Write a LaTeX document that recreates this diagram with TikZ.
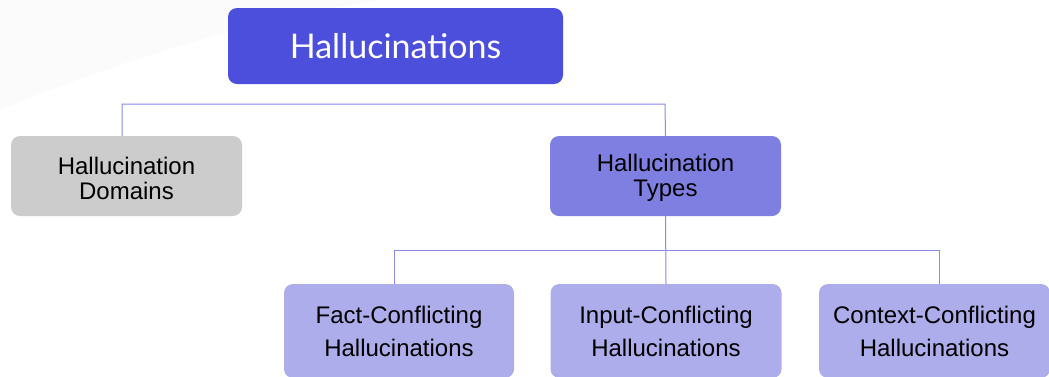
\documentclass[tikz,border=0pt]{standalone}
\usepackage{fontspec}
\setmainfont{Liberation Sans}
\newfontfamily\titlefont{Lato}
\begin{document}
\begin{tikzpicture}[x=1pt,y=-1pt,
  box/.style={rounded corners=9pt, inner sep=0pt, align=center, font=\fontsize{24}{25}\selectfont, text=black},
  leaf/.style={box, fill=leafc, minimum height=94pt, font=\fontsize{24}{33}\selectfont},
  link/.style={draw=linkc, line width=1pt}]
\definecolor{rootc}{HTML}{4B4FDB}
\definecolor{typec}{HTML}{7F7FE2}
\definecolor{leafc}{HTML}{ADADEC}
\definecolor{grayc}{HTML}{CCCCCC}
\definecolor{linkc}{HTML}{8A8AEE}
\useasboundingbox (0,0) rectangle (1049,376);
\clip (0,0) rectangle (1049,376);
\fill[white] (0,0) rectangle (1049,376);
\fill[black!1.5] (0,0) -- (380,0) .. controls (250,20) and (120,60) .. (0,110) -- cycle;
% nodes
\node[box, fill=rootc, minimum width=335pt, minimum height=76pt, text=white, font=\titlefont\fontsize{34}{38}\selectfont] (root) at (395.5,46) {Hallucinations};
\node[box, fill=grayc, minimum width=231pt, minimum height=80pt] (dom) at (126.5,176) {};
\node[align=center, font=\fontsize{24}{25}\selectfont, inner sep=0pt] (domt) at (126.5,178) {Hallucination\\Domains};
\node[box, fill=typec, minimum width=231pt, minimum height=80pt] (typ) at (665.5,176) {};
\node[align=center, font=\fontsize{24}{25}\selectfont, inner sep=0pt] (typt) at (665.5,178) {Hallucination\\Types};
\node[leaf, minimum width=230pt] (fact) at (399,331) {Fact-Conflicting\\Hallucinations};
\node[leaf, minimum width=231pt] (inp) at (666,331) {Input-Conflicting\\Hallucinations};
\node[leaf, minimum width=231pt] (ctx) at (934.5,331) {Context-Conflicting\\Hallucinations};
% connectors
\coordinate (h1) at (122,104);
\coordinate (h2) at (665,104);
\draw[link] ([xshift=-4.5pt]dom.north) |- (h1) -- (h2) -- (typ.north);
\coordinate (g1) at (394,250);
\coordinate (g2) at (939,250);
\draw[link] (typ.south) -- (inp.north);
\draw[link] ([xshift=-5pt]fact.north) |- (g1) -- (g2) -- ([xshift=4.5pt]ctx.north);
\end{tikzpicture}
\end{document}
